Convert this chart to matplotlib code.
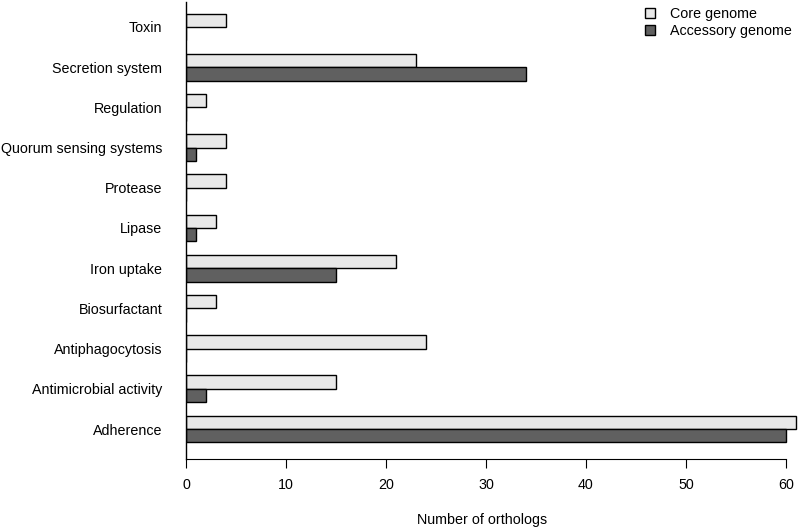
import matplotlib
matplotlib.use("Agg")
import matplotlib.pyplot as plt
import numpy as np

plt.rcParams['font.family'] = ['Liberation Sans', 'DejaVu Sans']

# categories listed bottom to top
categories = ['Adherence', 'Antimicrobial activity', 'Antiphagocytosis', 'Biosurfactant',
              'Iron uptake', 'Lipase', 'Protease', 'Quorum sensing systems',
              'Regulation', 'Secretion system', 'Toxin']
core = [61, 15, 24, 3, 21, 3, 4, 4, 2, 23, 4]
accessory = [60, 2, 0, 0, 15, 1, 0, 1, 0, 34, 0]
xticks = [0, 10, 20, 30, 40, 50, 60]

W, H = 800, 529
fig = plt.figure(figsize=(W / 100, H / 100), dpi=100)
# axes placed in pixel terms: left 186, right 800, top 2, bottom 459
ax = fig.add_axes([186 / W, (H - 459) / H, 614 / W, 457 / H])

fs = 10.3
h = 1 / 3
y = np.arange(len(categories))
ax.barh(y + h / 2, core, height=h, color='#e8e8e8', edgecolor='black', linewidth=1.0,
        label='Core genome')
ax.barh(y - h / 2, accessory, height=h, color='#606060', edgecolor='black', linewidth=1.0,
        label='Accessory genome')

ax.set_xlim(0, 61.4)
ax.set_ylim(-0.746, 10.62)

ax.set_yticks(y)
ax.set_yticklabels(categories, fontsize=fs)
ax.tick_params(axis='y', length=0, pad=17)
ax.set_xticks(xticks)
ax.set_xticklabels([str(t) for t in xticks], fontsize=fs)
ax.tick_params(axis='x', length=6.5, width=0.8, pad=7)

for s in ['top', 'right']:
    ax.spines[s].set_visible(False)
ax.spines['bottom'].set_bounds(0, 60)
ax.spines['left'].set_linewidth(1.0)
ax.spines['bottom'].set_linewidth(0.8)

fig.text(482 / W, 1 - 520 / H, 'Number of orthologs', ha='center', va='center', fontsize=fs)

leg = ax.legend(loc='upper left', bbox_to_anchor=(639 / W, 1 - 1 / H),
                bbox_transform=fig.transFigure, frameon=False, fontsize=fs,
                handlelength=0.7, handleheight=0.7, handletextpad=1.05,
                labelspacing=0.21, borderaxespad=0)

fig.savefig('out.png', dpi=100)
